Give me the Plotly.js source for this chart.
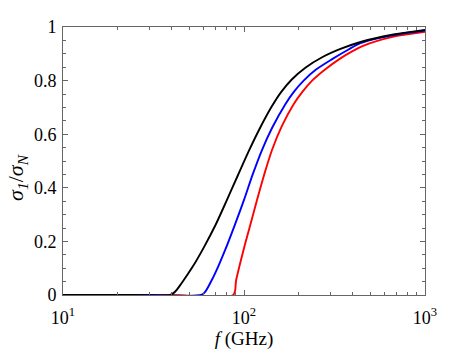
<!DOCTYPE html>
<html>
<head>
<meta charset="utf-8">
<script src="https://cdn.plot.ly/plotly-3.0.1.min.js"></script>
<style>
  body { margin: 0; background: #fff; }
  #chart { width: 469px; height: 352px; }
</style>
</head>
<body>
<div id="chart"></div>
<script>
// frequency (GHz) and sigma ratio, one pair per curve
const fBlack = [10, 25, 39.0, 41.6, 45.3, 52.0, 59.7, 69.7, 80.4, 92.3, 105.9, 123.0, 142.8, 160.7, 184.2, 218.3, 270.2, 341.2, 440.4, 670.9, 1000];
const sBlack = [0, 0, 0, 0.012, 0.045, 0.105, 0.175, 0.262, 0.354, 0.445, 0.535, 0.625, 0.705, 0.758, 0.805, 0.848, 0.887, 0.918, 0.944, 0.972, 0.989];

const fBlue = [10, 30, 57.9, 61.0, 66.4, 72.4, 78.7, 88.8, 99.9, 111.7, 125.7, 143.3, 169.2, 188.5, 213.6, 251.2, 306.9, 377.9, 440.4, 670.9, 1000];
const sBlue = [0, 0, 0, 0.012, 0.056, 0.11, 0.168, 0.26, 0.354, 0.45, 0.541, 0.625, 0.712, 0.758, 0.8, 0.842, 0.88, 0.916, 0.94, 0.97, 0.987];

const fRed = [10, 40, 87.1, 90.5, 99.4, 108.2, 117.9, 129.4, 142.8, 161.8, 188.0, 210.1, 237.8, 278.2, 341.2, 397.7, 451.6, 670.9, 1000];
const sRed = [0, 0, 0, 0.056, 0.168, 0.26, 0.354, 0.45, 0.541, 0.63, 0.712, 0.758, 0.8, 0.84, 0.883, 0.91, 0.929, 0.964, 0.982];

const xTicks = [10, 100, 1000];
const xTickText = ["10<sup>1</sup>", "10<sup>2</sup>", "10<sup>3</sup>"];
const xMinor = [20, 30, 40, 50, 60, 70, 80, 90, 200, 300, 400, 500, 600, 700, 800, 900];
const yTicks = [0, 0.2, 0.4, 0.6, 0.8, 1];
const yTickText = ["0", "0.2", "0.4", "0.6", "0.8", "1"];

function curve(x, y, color) {
  return {
    x: x,
    y: y,
    type: "scatter",
    mode: "lines",
    line: { color: color, width: 1.9, shape: "spline", smoothing: 0.8 },
    hoverinfo: "skip",
  };
}

// red first so black ends up on top
const traces = [
  curve(fRed, sRed, "#ff0000"),
  curve(fBlue, sBlue, "#0000ff"),
  curve(fBlack, sBlack, "#000000"),
];

const axisStyle = {
  showline: true,
  linecolor: "#666",
  linewidth: 1,
  mirror: "ticks",
  ticks: "inside",
  ticklen: 5,
  tickcolor: "#666",
  showgrid: false,
  zeroline: false,
  tickfont: { family: "Liberation Serif", size: 18, color: "#000" },
};

const layout = {
  width: 469,
  height: 352,
  margin: { l: 63, r: 44, t: 27, b: 57 },
  paper_bgcolor: "#fff",
  plot_bgcolor: "#fff",
  showlegend: false,
  xaxis: Object.assign({}, axisStyle, {
    type: "log",
    range: [1, 3],
    tickmode: "array",
    tickvals: xTicks,
    ticktext: xTickText,
    ticklabelstandoff: 6,
    minor: { tickmode: "array", tickvals: xMinor, ticks: "inside", ticklen: 3, tickcolor: "#666" },
    title: {
      text: "<i>f</i> (GHz)",
      font: { family: "Liberation Serif", size: 19, color: "#000" },
      standoff: 2,
    },
  }),
  yaxis: Object.assign({}, axisStyle, {
    range: [0, 1],
    tickmode: "array",
    tickvals: yTicks,
    ticktext: yTickText,
    ticklabelstandoff: 2,
    minor: { dtick: 0.05, ticks: "inside", ticklen: 3, tickcolor: "#666" },
  }),
  annotations: [
    {
      text: "<i>σ</i><sub><i>1</i></sub>/<i>σ</i><sub><i>N</i></sub>",
      xref: "paper",
      yref: "paper",
      x: -0.127,
      y: 0.437,
      xanchor: "center",
      yanchor: "middle",
      textangle: -90,
      showarrow: false,
      font: { family: "Liberation Serif", size: 22, color: "#000" },
    },
  ],
};

Plotly.newPlot("chart", traces, layout, { displayModeBar: false, staticPlot: true });
</script>
</body>
</html>
